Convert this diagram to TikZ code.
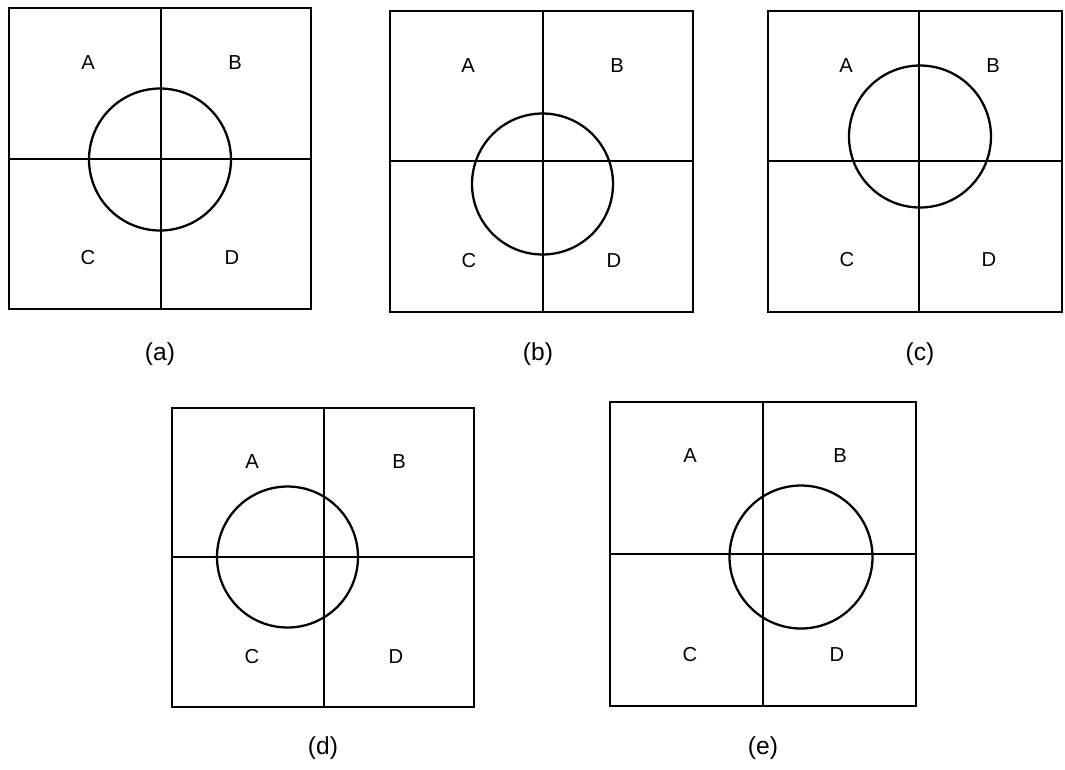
\documentclass[tikz,border=0pt]{standalone}
\usepackage{fontspec}
\setmainfont{Liberation Sans}
\usetikzlibrary{positioning}

\tikzset{
  quad/.style={line width=1.3pt},
  zone/.style={font=\fontsize{11.5}{13}\selectfont, inner sep=0pt},
  caption/.style={font=\fontsize{14}{16}\selectfont, inner sep=0pt}
}

\begin{document}
\begin{tikzpicture}[x=0.02cm, y=-0.02cm]
            \useasboundingbox (0,0) rectangle (1065,769);

            % Panel (a)
            \draw[quad] (9,8) rectangle (311,309);
            \draw[quad] (161,8) -- (161,309);
            \draw[quad] (9,159) -- (311,159);
            \draw[quad] (160,159.5) circle[radius=1.42cm];
            \node[zone] (a-A) at (88,63) {A};
            \node[zone] (a-B) at (235,63) {B};
            \node[zone] (a-C) at (88,258) {C};
            \node[zone] (a-D) at (232,258) {D};
            \node[caption] (a-cap) at (160,354) {(a)};

            % Panel (b)
            \draw[quad] (390,11) rectangle (693,312);
            \draw[quad] (543,11) -- (543,312);
            \draw[quad] (390,161) -- (693,161);
            \draw[quad] (542.5,184) circle[radius=1.41cm];
            \node[zone] (b-A) at (468,66) {A};
            \node[zone] (b-B) at (617,66) {B};
            \node[zone] (b-C) at (469,261) {C};
            \node[zone] (b-D) at (614,261) {D};
            \node[caption] (b-cap) at (538,354) {(b)};

            % Panel (c)
            \draw[quad] (768,11) rectangle (1062,312);
            \draw[quad] (919,11) -- (919,312);
            \draw[quad] (768,161) -- (1062,161);
            \draw[quad] (920,136.5) circle[radius=1.42cm];
            \node[zone] (c-A) at (846,66) {A};
            \node[zone] (c-B) at (993,66) {B};
            \node[zone] (c-C) at (847,260) {C};
            \node[zone] (c-D) at (989,260) {D};
            \node[caption] (c-cap) at (920,354) {(c)};

            % Panel (d)
            \draw[quad] (172,408) rectangle (474,707);
            \draw[quad] (324,408) -- (324,707);
            \draw[quad] (172,557) -- (474,557);
            \draw[quad] (287.5,557) circle[radius=1.41cm];
            \node[zone] (d-A) at (252,462) {A};
            \node[zone] (d-B) at (399,462) {B};
            \node[zone] (d-C) at (252,657) {C};
            \node[zone] (d-D) at (396,657) {D};
            \node[caption] (d-cap) at (323,748) {(d)};

            % Panel (e)
            \draw[quad] (610,402) rectangle (916,706);
            \draw[quad] (763,402) -- (763,706);
            \draw[quad] (610,554) -- (916,554);
            \draw[quad] (801,557) circle[radius=1.43cm];
            \node[zone] (e-A) at (690,456) {A};
            \node[zone] (e-B) at (840,456) {B};
            \node[zone] (e-C) at (690,655) {C};
            \node[zone] (e-D) at (837,655) {D};
            \node[caption] (e-cap) at (763,748) {(e)};
\end{tikzpicture}
\end{document}
